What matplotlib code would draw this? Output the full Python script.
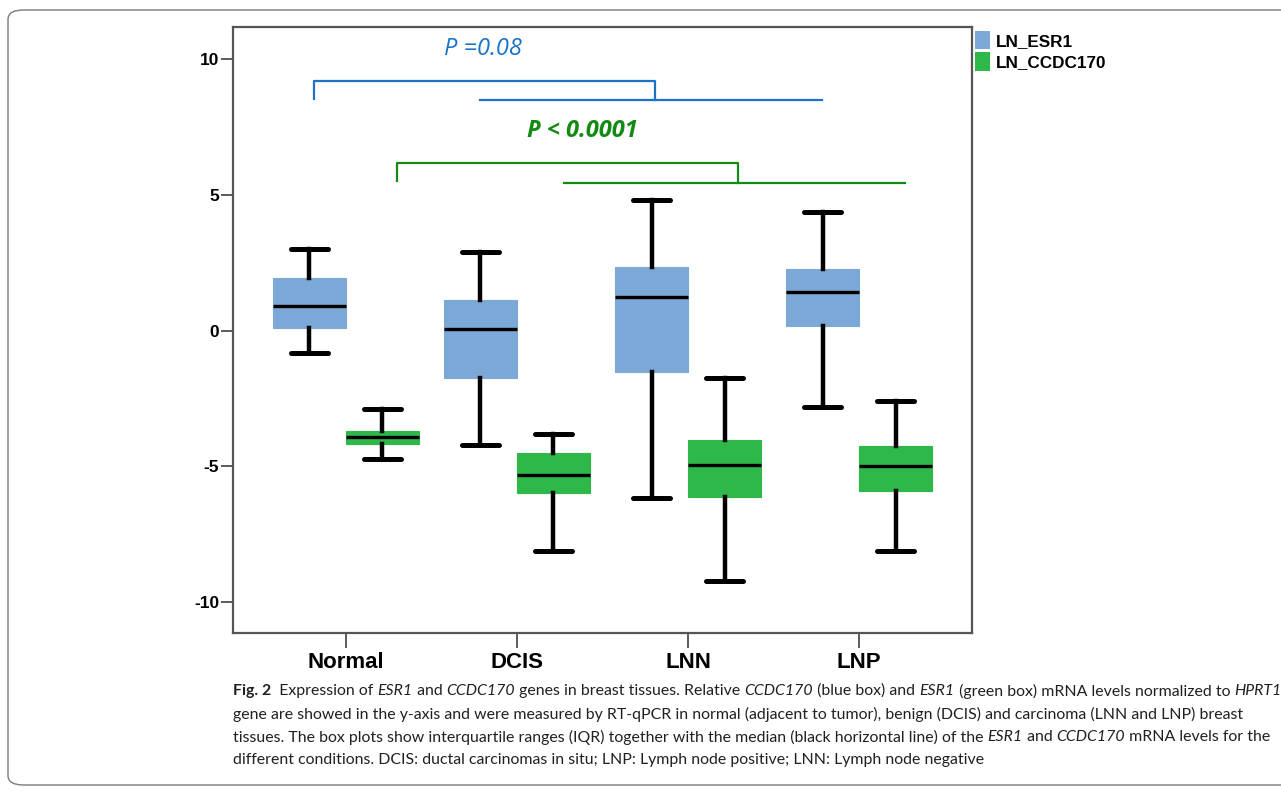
import matplotlib
matplotlib.use("Agg")
import matplotlib.pyplot as plt
from matplotlib.patches import Patch, FancyBboxPatch

# categories and box statistics
groups = ['Normal', 'DCIS', 'LNN', 'LNP']

esr1_whislo = [-0.81, -4.20, -6.18, -2.83]
esr1_q1 = [0.11, -1.73, -1.51, 0.18]
esr1_med = [0.92, 0.04, 1.25, 1.43]
esr1_q3 = [1.95, 1.14, 2.35, 2.28]
esr1_whishi = [3.01, 2.90, 4.82, 4.38]

ccdc_whislo = [-4.74, -8.12, -9.23, -8.12]
ccdc_q1 = [-4.19, -5.99, -6.14, -5.92]
ccdc_med = [-3.90, -5.33, -4.93, -5.00]
ccdc_q3 = [-3.71, -4.49, -4.01, -4.26]
ccdc_whishi = [-2.87, -3.79, -1.76, -2.61]

# significance brackets (x in category units, y in data units)
blue_top_x = [0.813, 0.813, 2.807, 2.807]
blue_top_y = [8.53, 9.19, 9.19, 8.49]
blue_low_x = [1.784, 3.784]
blue_low_y = [8.49, 8.49]
green_top_x = [1.298, 1.298, 3.292, 3.292]
green_top_y = [5.51, 6.18, 6.18, 5.44]
green_low_x = [2.275, 4.269]
green_low_y = [5.44, 5.44]
p_blue = 'P =0.08'
p_green = 'P < 0.0001'

c_esr1 = '#7BA8D6'
c_ccdc = '#2FB84A'
c_pblue = '#1A73C9'
c_pgreen = '#138A13'

fig = plt.figure(figsize=(12.81, 7.91), dpi=100)
ax = fig.add_axes([233/1281, 1 - 633/791, (972-233)/1281, (633-27)/791])

def make_stats(lo, q1, med, q3, hi):
    return [dict(whislo=a, q1=b, med=c, q3=d, whishi=e, fliers=[])
            for a, b, c, d, e in zip(lo, q1, med, q3, hi)]

w = 0.427
pos = range(1, len(groups) + 1)
for stats, off, col in [(make_stats(esr1_whislo, esr1_q1, esr1_med, esr1_q3, esr1_whishi), -w/2, c_esr1),
                        (make_stats(ccdc_whislo, ccdc_q1, ccdc_med, ccdc_q3, ccdc_whishi), w/2, c_ccdc)]:
    ax.bxp(stats, positions=[p + off for p in pos], widths=w, capwidths=w/2,
           patch_artist=True, showfliers=False,
           boxprops=dict(facecolor=col, edgecolor=col, linewidth=0.8),
           medianprops=dict(color='black', linewidth=2.4, solid_capstyle='butt'),
           whiskerprops=dict(color='black', linewidth=3.2),
           capprops=dict(color='black', linewidth=3.6, solid_capstyle='round'),
           zorder=3)

# brackets
ax.plot(blue_top_x, blue_top_y, color=c_pblue, lw=1.6)
ax.plot(blue_low_x, blue_low_y, color=c_pblue, lw=1.6)
ax.plot(green_top_x, green_top_y, color=c_pgreen, lw=1.6)
ax.plot(green_low_x, green_low_y, color=c_pgreen, lw=1.6)
ax.text(1.80, 10.37, p_blue, color=c_pblue, fontsize=17, style='italic',
        family='Open Sans', ha='center', va='center')
ax.text(2.38, 7.35, p_green, color=c_pgreen, fontsize=17, style='italic',
        weight='bold', family='Open Sans', ha='center', va='center')

ax.set_xlim(0.34, 4.66)
ax.set_ylim(-11.13, 11.17)
ax.set_xticks(list(pos))
ax.set_xticklabels(groups, fontsize=16, fontweight='bold', family='Liberation Sans')
ax.set_yticks([-10, -5, 0, 5, 10])
ax.set_yticklabels(['-10', '-5', '0', '5', '10'], fontsize=12.5, fontweight='bold',
                   family='Liberation Sans')
ax.tick_params(axis='x', length=11, width=1.2, color='#404040', pad=3)
ax.tick_params(axis='y', length=9, width=1.2, color='#404040', pad=1)
for s in ax.spines.values():
    s.set_color('#555555')
    s.set_linewidth(1.6)

# legend outside the axes
handles = [Patch(facecolor=c_esr1, label='LN_ESR1'), Patch(facecolor=c_ccdc, label='LN_CCDC170')]
fig.legend(handles=handles, loc='upper left', bbox_to_anchor=(975/1281, 1 - 31/791),
           frameon=False, handlelength=0.9, handleheight=1.25, handletextpad=0.35,
           labelspacing=0.2, borderpad=0, borderaxespad=0,
           prop=dict(family='Liberation Sans', weight='bold', size=12.3))

# caption with mixed styles
cap_font = 'Lato'
cap_size = 11.45
caption = [
    [('Fig. 2', 'bold'), ('  Expression of ', 'normal'), ('ESR1', 'italic'), (' and ', 'normal'),
     ('CCDC170', 'italic'), (' genes in breast tissues. Relative ', 'normal'), ('CCDC170', 'italic'),
     (' (blue box) and ', 'normal'), ('ESR1', 'italic'),
     (' (green box) mRNA levels normalized to ', 'normal'), ('HPRT1', 'italic')],
    [('gene are showed in the y-axis and were measured by RT-qPCR in normal (adjacent to tumor), '
      'benign (DCIS) and carcinoma (LNN and LNP) breast', 'normal')],
    [('tissues. The box plots show interquartile ranges (IQR) together with the median '
      '(black horizontal line) of the ', 'normal'), ('ESR1', 'italic'), (' and ', 'normal'),
     ('CCDC170', 'italic'), (' mRNA levels for the', 'normal')],
    [('different conditions. DCIS: ductal carcinomas in situ; LNP: Lymph node positive; '
      'LNN: Lymph node negative', 'normal')],
]
line_y = [691, 714, 737, 760]

renderer = fig.canvas.get_renderer()
for pieces, yy in zip(caption, line_y):
    x = 233
    for txt, sty in pieces:
        kw = dict(fontsize=cap_size, family=cap_font, color='#231F20', va='center', ha='left')
        if sty == 'bold':
            kw['weight'] = 'bold'
        elif sty == 'italic':
            kw['style'] = 'italic'
        t = fig.text(x / 1281, 1 - yy / 791, txt, **kw)
        x += t.get_window_extent(renderer).width

# rounded frame around the figure panel
frame = FancyBboxPatch((8/1281, 1 - 785/791), 1.2, (785 - 10)/791,
                       boxstyle='round,pad=0,rounding_size=0.012', transform=fig.transFigure,
                       facecolor='none', edgecolor='#7A7A7A', linewidth=1.0)
fig.patches.append(frame)

fig.savefig('out.png', dpi=100)
